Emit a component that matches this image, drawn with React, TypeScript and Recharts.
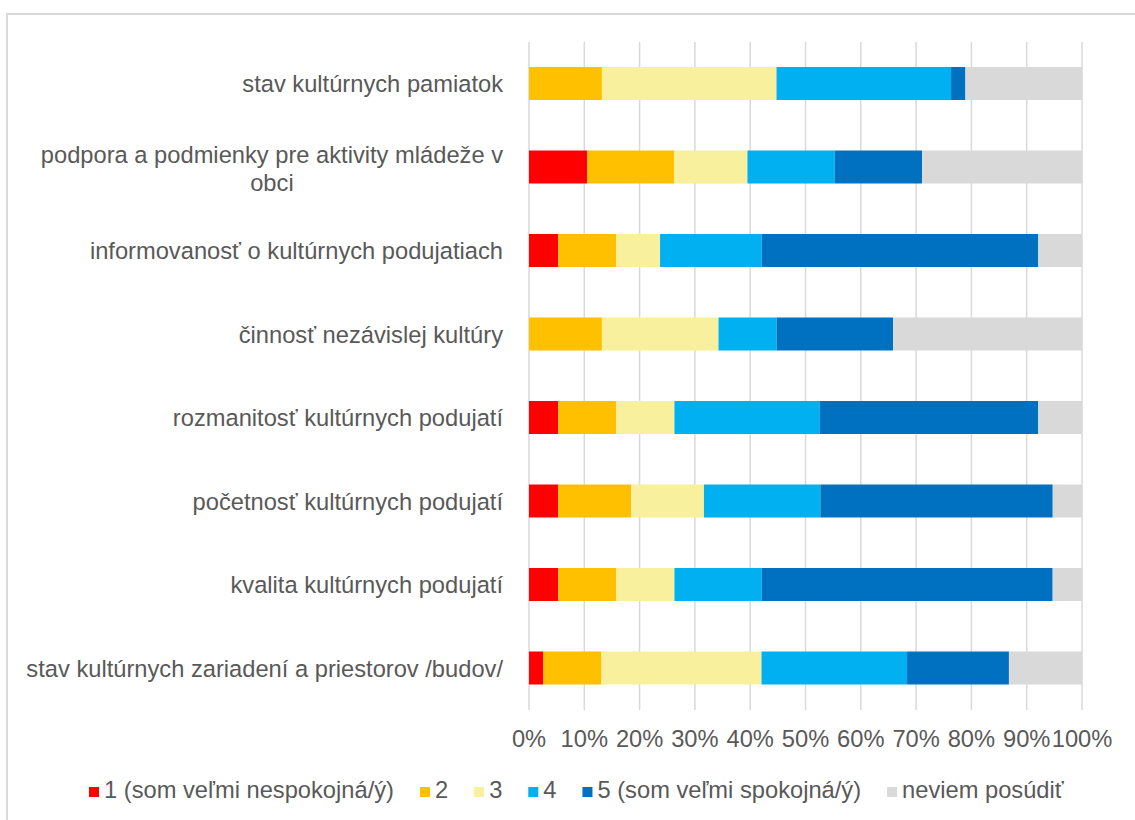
import React from 'react';
import { BarChart, Bar, XAxis, YAxis, CartesianGrid, Legend } from 'recharts';

const categories = [
  'stav kultúrnych pamiatok',
  'podpora a podmienky pre aktivity mládeže v obci',
  'informovanosť o kultúrnych podujatiach',
  'činnosť nezávislej kultúry',
  'rozmanitosť kultúrnych podujatí',
  'početnosť kultúrnych podujatí',
  'kvalita kultúrnych podujatí',
  'stav kultúrnych zariadení a priestorov /budov/',
];

const seriesNames = [
  '1 (som veľmi nespokojná/ý)',
  '2',
  '3',
  '4',
  '5 (som veľmi spokojná/ý)',
  'neviem posúdiť',
];

const s1 = [0, 10.5, 5.3, 0, 5.3, 5.3, 5.3, 2.6];
const s2 = [13.2, 15.8, 10.5, 13.2, 10.5, 13.2, 10.5, 10.5];
const s3 = [31.6, 13.2, 7.9, 21.1, 10.5, 13.2, 10.5, 28.9];
const s4 = [31.6, 15.8, 18.4, 10.5, 26.3, 21.1, 15.8, 26.3];
const s5 = [2.6, 15.8, 50.0, 21.1, 39.5, 42.1, 52.6, 18.4];
const s6 = [21.1, 28.9, 7.9, 34.2, 7.9, 5.3, 5.3, 13.2];

const xTicks = [0, 0.1, 0.2, 0.3, 0.4, 0.5, 0.6, 0.7, 0.8, 0.9, 1];

const colors = ['#FF0000', '#FFC000', '#F8F09C', '#00B0F0', '#0070C0', '#D9D9D9'];
const keys = ['k1', 'k2', 'k3', 'k4', 'k5', 'k6'];
const allSeries = [s1, s2, s3, s4, s5, s6];

const data = categories.map((name, i) => {
  const row: any = { name };
  keys.forEach((k, j) => {
    row[k] = allSeries[j][i];
  });
  return row;
});

const FONT = '"Liberation Sans", Arial, sans-serif';
const FS = 23.7;
const TEXT = '#595959';

let ctx: CanvasRenderingContext2D | null = null;
function textWidth(s: string): number {
  if (!ctx) ctx = document.createElement('canvas').getContext('2d');
  if (!ctx) return s.length * FS * 0.5;
  ctx.font = `${FS}px "Liberation Sans"`;
  return ctx.measureText(s).width;
}

function wrap(s: string, maxW: number): string[] {
  const words = s.split(' ');
  const lines: string[] = [];
  let cur = '';
  words.forEach((w) => {
    const t = cur ? cur + ' ' + w : w;
    if (cur && textWidth(t) > maxW) {
      lines.push(cur);
      cur = w;
    } else cur = t;
  });
  if (cur) lines.push(cur);
  return lines;
}

const YTick = (props: any) => {
  const { x, y, payload } = props;
  const lines = wrap(String(payload.value), 495);
  const right = x - 18;
  if (lines.length === 1) {
    return (
      <text x={right} y={y + 8.5} textAnchor="end" fill={TEXT} fontSize={FS} fontFamily={FONT}>
        {lines[0]}
      </text>
    );
  }
  const blockW = Math.max(...lines.map(textWidth));
  const cx = right - blockW / 2;
  const lh = 28;
  return (
    <g>
      {lines.map((l, i) => (
        <text
          key={i}
          x={cx}
          y={y + 10 - ((lines.length - 1) * lh) / 2 + i * lh}
          textAnchor="middle"
          fill={TEXT}
          fontSize={FS}
          fontFamily={FONT}
        >
          {l}
        </text>
      ))}
    </g>
  );
};

const XTick = (props: any) => {
  const { x, y, payload } = props;
  return (
    <text x={x} y={y + 29} textAnchor="middle" fill={TEXT} fontSize={FS} fontFamily={FONT}>
      {`${Math.round(payload.value * 100)}%`}
    </text>
  );
};

const LegendContent = () => {
  let cur = 89;
  const items = seriesNames.map((n, i) => {
    const rx = cur;
    const tx = rx + 15;
    const w = textWidth(n);
    cur = tx + w + 26;
    return (
      <g key={n}>
        <rect x={rx} y={12} width={10} height={10} fill={colors[i]} />
        <text x={tx} y={23} fill={TEXT} fontSize={FS} fontFamily={FONT}>
          {n}
        </text>
      </g>
    );
  });
  return (
    <svg width={1135} height={30} style={{ display: 'block' }}>
      {items}
    </svg>
  );
};

export default function App() {
  return (
    <div style={{ position: 'absolute', left: 0, top: 0, width: 1135, height: 820, background: '#fff' }}>
      <div
        style={{
          position: 'absolute',
          left: 6,
          top: 13,
          width: 1135 - 6,
          height: 820 - 13,
          borderTop: '2px solid #D9D9D9',
          borderLeft: '2px solid #D9D9D9',
          boxSizing: 'border-box',
        }}
      />
      <div style={{ position: 'absolute', left: 0, top: 0 }}>
        <BarChart
          width={1135}
          height={820}
          data={data}
          layout="vertical"
          stackOffset="expand"
          margin={{ top: 42, right: 53, bottom: 40, left: 0 }}
        >
          <CartesianGrid horizontal={false} vertical={true} stroke="#D9D9D9" strokeWidth={1.5} />
          <XAxis
            type="number"
            domain={[0, 1]}
            ticks={xTicks}
            axisLine={false}
            tickLine={false}
            height={40}
            tick={<XTick />}
            interval={0}
          />
          <YAxis
            type="category"
            dataKey="name"
            width={529}
            axisLine={false}
            tickLine={false}
            tick={<YTick />}
            interval={0}
          />
          <Legend
            verticalAlign="bottom"
            content={<LegendContent />}
            wrapperStyle={{ left: 0, bottom: 15, width: 1135, height: 30 }}
          />
          {keys.map((k, i) => (
            <Bar
              key={k}
              dataKey={k}
              name={seriesNames[i]}
              stackId="a"
              fill={colors[i]}
              barSize={33}
              isAnimationActive={false}
            />
          ))}
        </BarChart>
      </div>
    </div>
  );
}
